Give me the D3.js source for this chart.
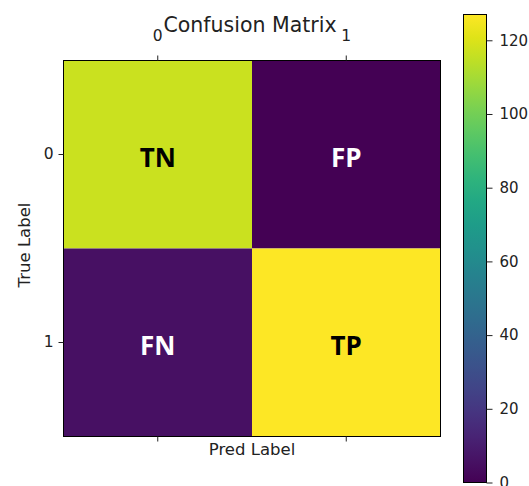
<!DOCTYPE html>
<html><head><meta charset="utf-8">
<script src="https://cdn.jsdelivr.net/npm/d3@7"></script>
<style>body{margin:0;background:#fff}svg{display:block}</style>
</head><body>
<script>
const classes = ["0", "1"];
const values = [[117, 0], [5, 127]];
const cellLabels = [["TN", "FP"], ["FN", "TP"]];
const cbTicks = [0, 20, 40, 60, 80, 100, 120];
const vmin = 0, vmax = 127;

const W = 529, H = 486;
const svg = d3.select("body").append("svg").attr("width", W).attr("height", H);
const L = 63.5, R = 440.5, T = 60.5, B = 436.5;
const x = d3.scaleBand().domain(classes).range([L, R]);
const y = d3.scaleBand().domain(classes).range([T, B]);
const color = d3.scaleSequential(d3.interpolateViridis).domain([vmin, vmax]);
const font = "DejaVu Sans, sans-serif";

const cells = [];
values.forEach((row, i) => row.forEach((v, j) => cells.push({r: classes[i], c: classes[j], v, lab: cellLabels[i][j]})));

svg.selectAll("rect.cell").data(cells).join("rect")
  .attr("x", d => x(d.c)).attr("y", d => y(d.r))
  .attr("width", x.bandwidth()).attr("height", y.bandwidth())
  .attr("fill", d => color(d.v));

svg.selectAll("text.cl").data(cells).join("text")
  .attr("x", d => x(d.c) + x.bandwidth() / 2)
  .attr("y", d => y(d.r) + y.bandwidth() / 2 + 12)
  .attr("text-anchor", "middle")
  .attr("font-family", "Open Sans, Lato, sans-serif").attr("font-weight", "bold")
  .attr("font-size", 26)
  .attr("fill", d => d.v > vmax / 2 ? "#000" : "#fff")
  .text(d => d.lab);

svg.append("rect").attr("x", L).attr("y", T).attr("width", R - L).attr("height", B - T)
  .attr("fill", "none").attr("stroke", "#000").attr("stroke-width", 1);

function styleAxis(g, showLabels) {
  g.select(".domain").remove();
  g.selectAll(".tick line").attr("stroke", "#222");
  g.selectAll(".tick text").attr("font-family", font).attr("font-size", 15.5).attr("fill", "#222");
  if (!showLabels) g.selectAll(".tick text").remove();
}
svg.append("g").attr("transform", `translate(0,${T})`)
  .call(d3.axisTop(x).tickSize(5).tickPadding(15)).call(g => styleAxis(g, true))
  .call(g => g.selectAll(".tick text").attr("dy", "0em"));
svg.append("g").attr("transform", `translate(0,${B})`)
  .call(d3.axisBottom(x).tickSize(5)).call(g => styleAxis(g, false));
svg.append("g").attr("transform", `translate(${L},0)`)
  .call(d3.axisLeft(y).tickSize(5).tickPadding(5)).call(g => styleAxis(g, true));

svg.append("text").attr("x", 250).attr("y", 32).attr("text-anchor", "middle")
  .attr("font-family", font).attr("font-size", 20.5).attr("fill", "#222").text("Confusion Matrix");
svg.append("text").attr("x", (L + R) / 2).attr("y", 455).attr("text-anchor", "middle")
  .attr("font-family", font).attr("font-size", 16.5).attr("fill", "#222").text("Pred Label");
svg.append("text").attr("transform", `translate(30,${245}) rotate(-90)`).attr("text-anchor", "middle")
  .attr("font-family", font).attr("font-size", 16.5).attr("fill", "#222").text("True Label");

// colorbar
const cbL = 463.5, cbW = 23, cbT = 14.5, cbB = 482.5;
const cy = d3.scaleLinear().domain([vmin, vmax]).range([cbB, cbT]);
const defs = svg.append("defs");
const grad = defs.append("linearGradient").attr("id", "cbg").attr("x1", 0).attr("y1", 1).attr("x2", 0).attr("y2", 0);
d3.range(0, 1.001, 0.05).forEach(t => grad.append("stop").attr("offset", t).attr("stop-color", d3.interpolateViridis(t)));
svg.append("rect").attr("x", cbL).attr("y", cbT).attr("width", cbW).attr("height", cbB - cbT)
  .attr("fill", "url(#cbg)").attr("stroke", "#000").attr("stroke-width", 1);
svg.append("g").attr("transform", `translate(${cbL + cbW},0)`)
  .call(d3.axisRight(cy).tickValues(cbTicks).tickSize(6).tickPadding(7))
  .call(g => styleAxis(g, true))
  .call(g => g.selectAll(".tick text").attr("font-size", 15));
</script>
</body></html>
